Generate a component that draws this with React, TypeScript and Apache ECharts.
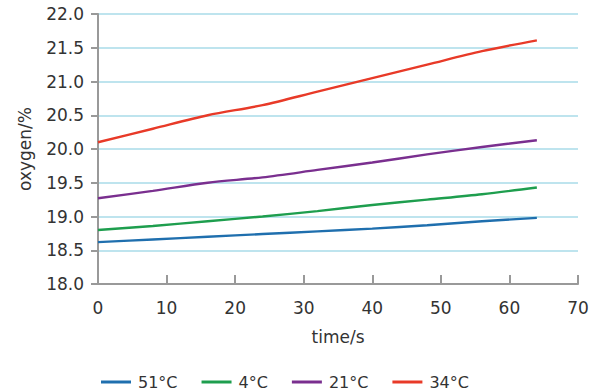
import React, { useEffect, useRef } from "react";
import * as echarts from "echarts";

const times = [0, 8, 16, 24, 32, 40, 48, 56, 64];
const seriesNames = ["51°C", "4°C", "21°C", "34°C"];
const blue51 = [18.62, 18.66, 18.7, 18.74, 18.78, 18.82, 18.87, 18.93, 18.98];
const green4 = [18.8, 18.86, 18.93, 19.0, 19.08, 19.17, 19.25, 19.33, 19.43];
const purple21 = [19.27, 19.38, 19.5, 19.58, 19.69, 19.8, 19.92, 20.03, 20.13];
const red34 = [20.1, 20.3, 20.5, 20.65, 20.85, 21.05, 21.25, 21.45, 21.61];
const colors = ["#1f6fae", "#1e9e4e", "#7a2f8f", "#e83a28"];

export default function App() {
  const ref = useRef<HTMLDivElement>(null);
  useEffect(() => {
    if (!ref.current) return;
    const chart = echarts.init(ref.current, undefined, { renderer: "svg" });
    const allData = [blue51, green4, purple21, red34];
    const font = "DejaVu Sans";
    chart.setOption({
      animation: false,
      color: colors,
      grid: { left: 98, right: 17, top: 14, bottom: 107 },
      legend: {
        top: 369,
        left: 96,
        itemWidth: 30,
        itemHeight: 3,
        itemGap: 24,
        icon: "rect",
        textStyle: { fontFamily: font, fontSize: 16, color: "#333", padding: [0, 0, 0, 2] },
        data: seriesNames,
      },
      xAxis: {
        type: "value",
        min: 0,
        max: 70,
        interval: 10,
        name: "time/s",
        nameLocation: "middle",
        nameGap: 44,
        nameTextStyle: { fontFamily: font, fontSize: 17, color: "#333" },
        axisLine: { lineStyle: { color: "#999", width: 2 } },
        axisTick: { inside: true, length: 9, lineStyle: { color: "#999", width: 2 } },
        axisLabel: { fontFamily: font, fontSize: 17, color: "#333", margin: 15 },
        splitLine: { show: false },
      },
      yAxis: {
        type: "value",
        min: 18,
        max: 22,
        interval: 0.5,
        name: "oxygen/%",
        nameLocation: "middle",
        nameGap: 65,
        nameTextStyle: { fontFamily: font, fontSize: 17, color: "#333" },
        axisLine: { show: true, lineStyle: { color: "#999", width: 2 } },
        axisTick: { show: true, inside: false, length: 7, lineStyle: { color: "#999", width: 2 } },
        axisLabel: {
          fontFamily: font,
          fontSize: 17,
          color: "#333",
          margin: 14,
          formatter: (v: number) => v.toFixed(1),
        },
        splitLine: { show: true, lineStyle: { color: "#a9dbe8", width: 1.5 } },
      },
      series: seriesNames.map((name, i) => ({
        name,
        type: "line",
        smooth: 0.3,
        showSymbol: false,
        symbol: "none",
        lineStyle: { width: 2.4, color: colors[i] },
        data: times.map((t, j) => [t, allData[i][j]]),
      })),
    });
    return () => chart.dispose();
  }, []);
  return <div ref={ref} style={{ width: 595, height: 391, position: "absolute", left: 0, top: 0 }} />;
}
